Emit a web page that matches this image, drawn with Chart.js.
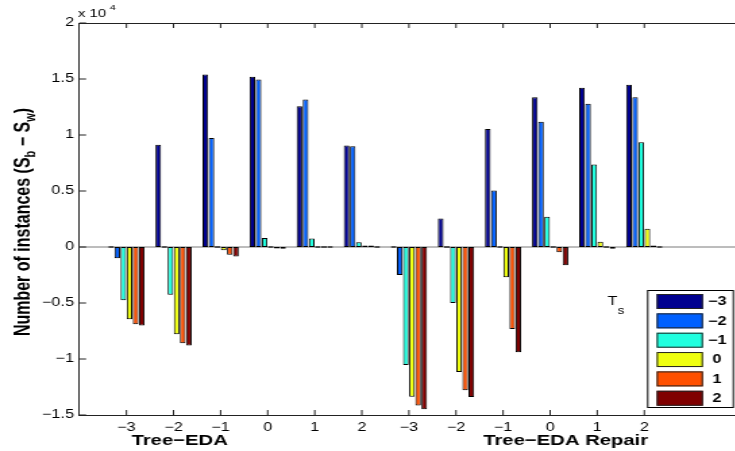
<!DOCTYPE html>
<html>
<head>
<meta charset="utf-8">
<script src="https://cdn.jsdelivr.net/npm/chart.js@4/dist/chart.umd.min.js"></script>
<style>
    html, body { margin: 0; padding: 0; background: #fff; overflow: hidden; width: 735px; height: 451px; }
    #chart { display: block; transform: scaleX(1.35); transform-origin: 0 0; }
</style>
</head>
<body>
<canvas id="chart" width="552" height="451"></canvas>
<script>
// Data (number of instances S_b - S_w), 12 groups: Tree-EDA then Tree-EDA Repair
const methods = ['Tree\u2212EDA', 'Tree\u2212EDA Repair'];
const tsLabels = ['\u22123', '\u22122', '\u22121', '0', '1', '2'];
const legendLabels = ['\u22123', '\u22122', '\u22121', ' 0', ' 1', ' 2'];
const seriesColors = ['#000090', '#0060FF', '#20FFDF', '#EFFF10', '#FF5000', '#800000'];

const tsMinus3 = [0, 9140, 15400, 15200, 12560, 9060, 0, 2550, 10540, 13360, 14220, 14490];
const tsMinus2 = [-1000, 0, 9730, 14960, 13180, 9000, -2500, 0, 5050, 11190, 12800, 13380];
const tsMinus1 = [-4750, -4270, 0, 800, 770, 420, -10530, -5000, 0, 2700, 7360, 9350];
const tsZero = [-6450, -7800, -300, 0, 0, 50, -13360, -11160, -2700, 0, 470, 1630];
const tsPlus1 = [-6900, -8600, -700, -50, 0, 50, -14160, -12800, -7330, -470, 0, 50];
const tsPlus2 = [-7000, -8800, -850, -150, 0, 0, -14490, -13400, -9400, -1630, -150, 0];

const yTicks = [-15000, -10000, -5000, 0, 5000, 10000, 15000, 20000];

const series = [tsMinus3, tsMinus2, tsMinus1, tsZero, tsPlus1, tsPlus2];
const FONT = "'Liberation Sans', Arial, Helvetica, sans-serif";

function fmtY(v) {
    return String(v / 10000).replace('-', '\u2212');
}

// Axis box, inward ticks, legend and extra texts (MATLAB look)
const decor = {
    id: 'decor',
    beforeDatasetsDraw(chart) {
        const ctx = chart.ctx;
        const a = chart.chartArea;
        const y0 = chart.scales.y.getPixelForValue(0);
        ctx.save();
        ctx.strokeStyle = '#7a7a7a';
        ctx.lineWidth = 1;
        ctx.beginPath();
        ctx.moveTo(a.left, y0);
        ctx.lineTo(a.right, y0);
        ctx.stroke();
        ctx.restore();
    },
    afterDraw(chart) {
        const ctx = chart.ctx;
        const a = chart.chartArea;
        const xs = chart.scales.x;
        const ys = chart.scales.y;
        ctx.save();
        ctx.strokeStyle = '#222';
        ctx.lineWidth = 1;

        // top axis line
        ctx.beginPath();
        ctx.moveTo(a.left, a.top + 0.5);
        ctx.lineTo(a.right, a.top + 0.5);
        ctx.stroke();

        // inward ticks
        ctx.beginPath();
        yTicks.forEach(v => {
            const p = ys.getPixelForValue(v);
            ctx.moveTo(a.left, p);
            ctx.lineTo(a.left + 5, p);
        });
        for (let i = 1; i <= series[0].length; i++) {
            const p = xs.getPixelForValue(i);
            ctx.moveTo(p, a.top);
            ctx.lineTo(p, a.top + 5);
            ctx.moveTo(p, a.bottom);
            ctx.lineTo(p, a.bottom - 5);
        }
        ctx.stroke();

        ctx.fillStyle = '#000';

        // x 10^4
        ctx.font = '11px ' + FONT;
        ctx.textAlign = 'left';
        ctx.textBaseline = 'alphabetic';
        ctx.fillText('x 10', 57.8, 17);
        ctx.font = '8px ' + FONT;
        ctx.fillText('4', 81.3, 10);

        // method labels
        ctx.font = 'bold 15px ' + FONT;
        ctx.textAlign = 'center';
        ctx.fillText(methods[0], xs.getPixelForValue(2.13), 445);
        ctx.fillText(methods[1], xs.getPixelForValue(10.33), 445);

        // T_s
        ctx.textAlign = 'left';
        ctx.font = '12px ' + FONT;
        ctx.fillText('T', 450.1, 305);
        ctx.font = '10px ' + FONT;
        ctx.fillText('s', 457.5, 313.5);

        // y title with subscripts
        const parts = [
            { t: 'Number of instances (S', sub: false },
            { t: 'b', sub: true },
            { t: ' \u2212 S', sub: false },
            { t: 'w', sub: true },
            { t: ')', sub: false }
        ];
        const bigFont = 'bold 16px ' + FONT;
        const smallFont = 'bold 11px ' + FONT;
        let total = 0;
        parts.forEach(p => {
            ctx.font = p.sub ? smallFont : bigFont;
            p.w = ctx.measureText(p.t).width;
            total += p.w;
        });
        ctx.save();
        ctx.translate(16.5, 222);
        ctx.rotate(-Math.PI / 2);
        let cx = -total / 2;
        parts.forEach(p => {
            ctx.font = p.sub ? smallFont : bigFont;
            ctx.fillText(p.t, cx, p.sub ? 9 : 5.5);
            cx += p.w;
        });
        ctx.restore();

        // legend box
        const lx = 479.3, ly = 290, lw = 64.4, lh = 118;
        ctx.fillStyle = '#fff';
        ctx.fillRect(lx, ly, lw, lh);
        ctx.strokeStyle = '#000';
        ctx.strokeRect(lx + 0.5, ly + 0.5, lw - 1, lh - 1);
        ctx.font = 'bold 12px ' + FONT;
        ctx.textAlign = 'left';
        ctx.textBaseline = 'middle';
        chart.data.datasets.forEach((ds, i) => {
            const sy = 294 + i * 19.35;
            ctx.fillStyle = ds.backgroundColor;
            ctx.fillRect(486.4, sy, 34.3, 15);
            ctx.strokeStyle = '#222';
            ctx.strokeRect(486.4 + 0.5, sy + 0.5, 33.3, 14);
            ctx.fillStyle = '#000';
            ctx.fillText(legendLabels[i], 524.4, sy + 8);
        });
        ctx.restore();
    }
};

const datasets = series.map((vals, i) => ({
    label: tsLabels[i],
    data: vals.map((v, j) => ({ x: j + 1, y: v })),
    backgroundColor: seriesColors[i],
    borderColor: '#000',
    borderWidth: 1,
    borderSkipped: false,
    minBarLength: 1.5,
    categoryPercentage: 0.78,
    barPercentage: 0.92
}));

new Chart(document.getElementById('chart'), {
    type: 'bar',
    data: { datasets },
    options: {
        responsive: false,
        animation: false,
        devicePixelRatio: 1,
        layout: { padding: { left: 0, top: 23, right: 2.4, bottom: 0 } },
        plugins: {
            legend: { display: false },
            tooltip: { enabled: false }
        },
        scales: {
            x: {
                type: 'linear',
                offset: false,
                min: 0,
                max: 14,
                grid: { display: false, drawTicks: false, offset: false },
                border: { display: true, color: '#222', width: 1 },
                ticks: {
                    stepSize: 1,
                    autoSkip: false,
                    maxRotation: 0,
                    padding: 5,
                    color: '#000',
                    font: { family: FONT, size: 12 },
                    callback: v => (v >= 1 && v <= 12) ? tsLabels[(v - 1) % 6] : ''
                },
                afterFit: s => { s.height = 36; }
            },
            y: {
                min: -15000,
                max: 20000,
                grid: { display: false, drawTicks: false },
                border: { display: true, color: '#222', width: 1 },
                ticks: {
                    stepSize: 5000,
                    padding: 4,
                    color: '#000',
                    font: { family: FONT, size: 12 },
                    callback: v => fmtY(v)
                },
                afterFit: s => { s.width = 58.8; }
            }
        }
    },
    plugins: [decor]
});
</script>
</body>
</html>
